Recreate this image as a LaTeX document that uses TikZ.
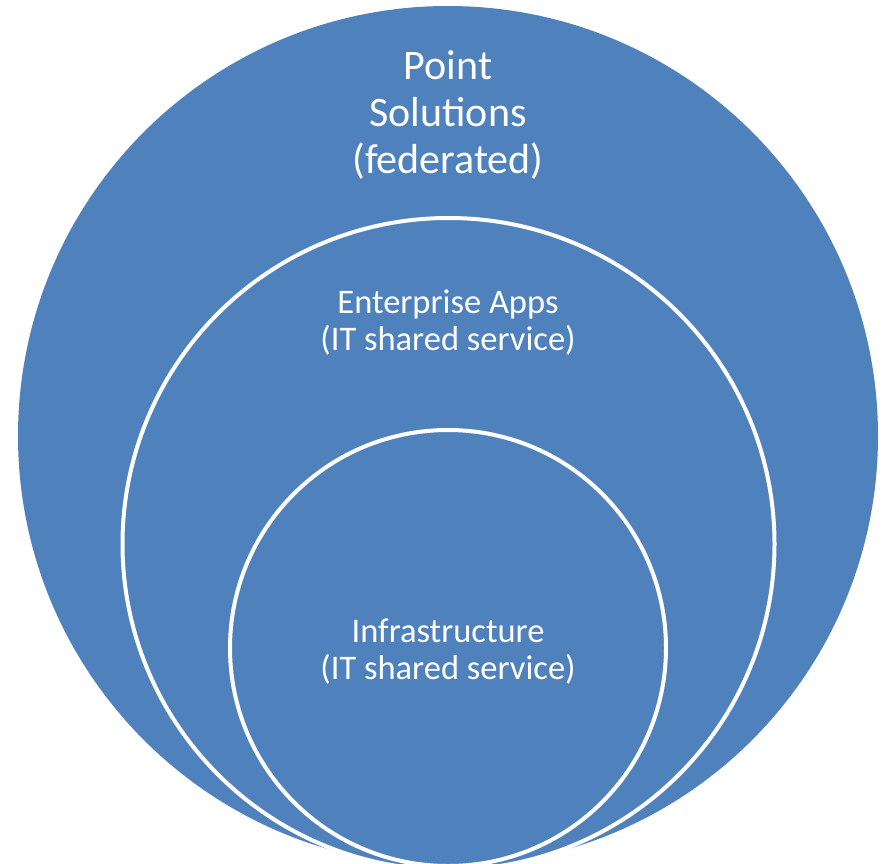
\documentclass[tikz,border=0pt]{standalone}
\usepackage{fontspec}
\setmainfont{Carlito}
\definecolor{ringblue}{HTML}{4F81BD}
\tikzset{
  ring/.style={fill=ringblue, draw=white, line width=4pt},
  outerring/.style={fill=ringblue},
  bigtxt/.style={text=white, align=center, font=\fontsize{42}{47}\selectfont, anchor=base, inner sep=0pt},
  smalltxt/.style={text=white, align=center, font=\fontsize{34.5}{37}\selectfont, anchor=base, inner sep=0pt}
}
\begin{document}
\begin{tikzpicture}[x=1pt,y=-1pt]
\useasboundingbox (0,0) rectangle (883,864);
\clip (0,0) rectangle (883,864);
\path[outerring] (448,436) circle[radius=430];
\path[ring] (448.5,544) circle[radius=326];
\path[ring] (448,648) circle[radius=218];
\node[bigtxt] (ps) at (448,173) {Point\\Solutions\\(federated)};
\node[smalltxt] (ea) at (448,350) {Enterprise Apps\\(IT shared service)};
\node[smalltxt] (inf) at (448,679) {Infrastructure\\(IT shared service)};
\end{tikzpicture}
\end{document}
